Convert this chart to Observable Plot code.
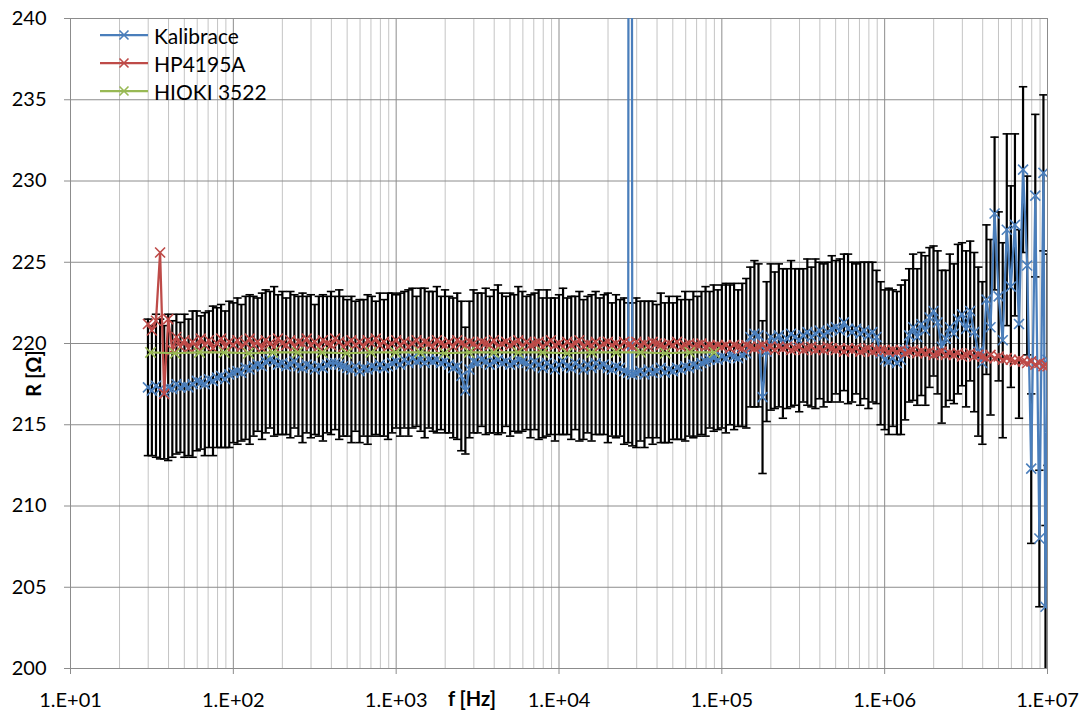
<!DOCTYPE html>
<html><head><meta charset="utf-8">
<script src="https://cdn.jsdelivr.net/npm/d3@7"></script>
<script src="https://cdn.jsdelivr.net/npm/@observablehq/plot@0.6"></script>
<style>
body{margin:0;background:#fff;}
#wrap{position:relative;width:1083px;height:713px;font-family:Lato,"Open Sans",sans-serif;}
#legend{position:absolute;left:100px;top:21px;font-size:21px;color:#000;font-family:Lato,sans-serif;}
.item{display:flex;align-items:center;height:28px;}
.item svg{margin-right:6px;}
</style></head><body><div id="wrap"><div id="legend"></div></div>
<script>
const freq = [
29.9,31.6,33.5,35.5,37.6,39.8,42.2,44.7,47.3,50.1,53.1,56.2,59.6,63.1,66.8,70.8,75.0,79.4,84.1,89.1,94.4,
100,106,112,119,126,133,141,150,158,168,178,188,200,211,224,237,251,266,282,299,316,335,355,376,398,422,447,473,501,531,562,596,631,668,708,750,794,841,891,944,
1000,1059,1122,1189,1259,1334,1413,1496,1585,1679,1778,1884,1995,2113,2239,2371,2512,2661,2818,2985,3162,3350,3548,3758,3981,4217,4467,4732,5012,5309,5623,5957,6310,6683,7079,7499,7943,8414,8913,9441,
10000,10590,11220,11890,12590,13340,14130,14960,15850,16790,17780,18840,19950,21130,22390,23710,25120,26610,27300,28180,29850,31620,33500,35480,37580,39810,42170,44670,47320,50120,53090,56230,59570,63100,66830,70790,74990,79430,84140,89130,94410,
1.0e5,1.059e5,1.122e5,1.189e5,1.259e5,1.334e5,1.413e5,1.496e5,1.585e5,1.679e5,1.778e5,1.884e5,1.995e5,2.113e5,2.239e5,2.371e5,2.512e5,2.661e5,2.818e5,2.985e5,3.162e5,3.350e5,3.548e5,3.758e5,3.981e5,4.217e5,4.467e5,4.732e5,5.012e5,5.309e5,5.623e5,5.957e5,6.310e5,6.683e5,7.079e5,7.499e5,7.943e5,8.414e5,8.913e5,9.441e5,
1.0e6,1.059e6,1.122e6,1.189e6,1.259e6,1.334e6,1.413e6,1.496e6,1.585e6,1.679e6,1.778e6,1.884e6,1.995e6,2.113e6,2.239e6,2.371e6,2.512e6,2.661e6,2.818e6,2.985e6,3.162e6,3.350e6,3.548e6,3.758e6,3.981e6,4.217e6,4.467e6,4.732e6,5.012e6,5.309e6,5.623e6,5.957e6,6.310e6,6.683e6,7.079e6,7.499e6,7.943e6,8.414e6,8.913e6,9.441e6,
9.72e6,1.0e7
];
const kalibrace = [
217.3,217.1,217.4,217.2,217.0,217.3,217.2,217.5,217.3,217.4,217.3,
217.5,217.7,217.6,217.5,217.8,217.7,217.9,218.0,217.8,218.1,
218.2,218.3,218.2,218.5,218.4,218.6,218.7,218.6,218.9,219.0,218.9,
218.7,218.8,218.6,218.7,218.9,218.6,218.5,218.7,218.6,218.4,218.6,218.5,218.7,218.8,
218.8,218.7,218.6,218.5,218.4,218.6,218.3,218.5,218.4,218.6,218.5,218.7,218.5,218.6,218.8,
218.9,218.7,219.0,218.8,219.1,218.9,219.0,218.8,219.0,218.9,219.0,218.8,218.9,218.7,218.5,218.6,
218.0,217.1,218.4,
218.9,218.8,219.0,218.9,218.7,218.9,219.0,218.8,218.9,218.7,218.8,219.0,218.9,218.8,
218.6,218.9,218.7,218.5,218.8,218.6,218.4,218.7,218.9,218.6,218.5,218.8,218.6,218.4,218.7,218.5,218.8,218.6,218.7,218.5,218.4,218.6,218.5,218.3,
218.2,400,218.1,
218.2,218.3,218.1,218.4,218.2,218.3,218.5,218.2,218.4,218.3,218.5,218.4,218.6,218.5,218.7,218.6,218.8,218.9,219.0,219.1,219.0,
219.2,219.1,219.3,219.2,219.1,219.3,219.4,220.4,220.6,
220.5,216.7,219.5,220.4,
220.2,220.5,220.0,220.3,220.6,220.4,220.2,220.5,220.7,220.4,220.6,220.8,220.5,220.7,220.9,221.0,220.8,221.3,220.9,220.7,220.9,220.6,220.8,220.5,220.7,220.4,
219.4,219.0,218.9,219.1,218.8,
219.0,219.6,220.5,221.0,220.4,221.2,220.8,221.6,222.0,221.3,219.8,220.3,221.0,220.6,221.5,221.8,220.9,222.0,220.7,219.5,
218.8,222.7,221.0,228.0,222.9,220.2,227.0,223.5,227.3,221.2,230.7,224.8,212.3,229.1,208.0,230.5,
203.8,219.0
];
const kalErr = [
4.2,4.0,4.4,4.3,4.1,4.5,4.2,4.3,4.0,4.4,4.2,4.5,4.3,4.1,4.4,4.2,4.6,4.3,4.4,4.2,4.5,
4.3,4.5,4.2,4.4,4.6,4.3,4.1,4.5,4.4,4.2,4.6,4.3,4.4,4.2,4.5,4.1,4.3,4.6,4.2,4.4,4.0,4.3,4.5,4.2,4.4,4.1,4.6,4.3,4.2,4.5,4.0,4.4,4.2,4.6,4.3,4.1,4.4,4.2,4.5,4.3,
4.1,4.4,4.2,4.5,4.3,4.0,4.4,4.6,4.2,4.3,4.5,4.1,4.4,4.2,4.3,4.5,4.6,3.9,4.2,4.4,4.3,4.1,4.5,4.2,4.4,4.6,4.3,4.0,4.4,4.2,4.5,4.3,4.1,4.4,4.2,4.6,4.3,4.5,4.2,4.4,
4.3,4.5,4.2,4.4,4.1,4.6,4.3,4.2,4.5,4.4,4.2,4.3,4.6,4.1,4.4,4.2,4.5,4.3,
4.0,
4.4,4.6,4.3,4.5,4.2,4.4,4.1,4.6,4.3,4.5,4.2,4.4,4.3,4.6,4.2,4.5,4.3,4.4,4.6,4.2,4.5,4.3,
4.4,4.6,4.3,4.5,4.2,4.4,4.6,4.3,4.5,4.4,4.7,4.3,4.5,4.2,4.4,4.6,4.3,4.5,4.2,4.4,4.1,4.5,4.3,4.6,4.2,4.4,4.3,4.5,4.1,4.4,4.2,4.6,4.3,4.0,4.4,4.2,4.5,4.3,4.1,4.4,
4.3,4.5,4.2,4.4,4.6,4.3,4.1,4.5,4.2,4.4,4.6,4.3,4.0,4.4,4.7,4.2,4.5,4.3,4.6,4.4,4.8,4.3,4.9,5.2,
5.0,4.6,5.4,4.7,5.2,6.0,5.9,6.2,5.6,5.8,5.1,5.5,4.6,5.0,4.2,4.8,
5.0,6.5
];
const hp4195a = [
221.2,220.8,221.4,225.6,216.9,221.5,219.6,220.4,219.8,220.2,219.7,
220.1,219.8,220.3,219.9,220.2,219.7,220.0,220.3,219.8,220.1,
219.9,220.2,219.8,220.0,220.3,219.9,220.1,219.7,220.2,220.0,
219.8,220.3,220.0,219.9,220.2,219.8,220.1,220.0,220.3,219.9,
220.1,219.8,220.2,220.0,219.9,220.3,220.1,219.8,220.0,220.2,
219.9,220.1,219.8,220.2,220.0,220.3,219.9,220.1,219.8,220.0,
220.2,219.9,220.1,219.8,220.0,220.2,219.9,220.1,220.0,219.8,
220.2,220.0,219.9,220.1,219.8,220.2,220.0,219.9,220.1,220.0,
219.8,220.1,220.0,219.9,220.2,219.8,220.0,220.1,219.9,220.0,
220.2,219.8,220.1,219.9,220.0,220.1,219.8,220.0,220.2,219.9,
220.0,219.8,220.1,219.9,220.0,220.2,219.8,220.0,219.9,220.1,
219.8,220.0,220.1,219.9,220.0,219.8,220.1,219.9,220.0,219.8,
220.1,219.9,220.0,219.8,220.1,220.0,219.9,219.8,220.0,219.9,
220.1,219.8,219.9,220.0,219.8,219.9,220.0,219.8,219.9,219.8,219.9,
219.8,219.9,219.7,219.9,219.8,219.7,219.9,219.8,219.7,219.8,
219.9,219.7,219.8,219.6,219.8,219.7,219.8,219.6,219.7,219.8,
219.6,219.7,219.8,219.6,219.7,219.6,219.8,219.7,219.6,219.7,
219.5,219.7,219.6,219.7,219.5,219.6,219.7,219.5,219.6,219.6,
219.6,219.5,219.6,219.5,219.6,219.4,219.5,219.6,219.4,219.5,
219.4,219.5,219.3,219.4,219.5,219.3,219.4,219.3,219.4,219.2,
219.3,219.4,219.2,219.3,219.2,219.1,219.3,219.1,219.2,219.0,
219.1,219.0,218.9,219.0,218.9,218.8,218.9,218.7,218.8,218.6,
218.7,218.6
];
const hiokiFreq = [31,43.8,62,87.7,124,175,248,351,496,701,992,1403,1984,2806,3968,5612,7937,11225,15873,22449,31747,44898,63496,89797];
const hioki = [219.45,219.4,219.45,219.45,219.4,219.45,219.45,219.45,219.4,219.45,219.45,219.45,219.4,219.45,219.45,219.45,219.45,219.4,219.45,219.45,219.45,219.4,219.45,219.45];

const seriesNames = ["Kalibrace","HP4195A","HIOKI 3522"];
const seriesColors = ["#4a7ebb","#be4b48","#98b954"];
const yTicks = [200,205,210,215,220,225,230,235,240];
const xTicks = [1e1,1e2,1e3,1e4,1e5,1e6,1e7];
const xTickLabels = ["1.E+01","1.E+02","1.E+03","1.E+04","1.E+05","1.E+06","1.E+07"];

const kal = freq.map((f,i)=>({f, v:kalibrace[i], lo:kalibrace[i]-kalErr[i], hi:kalibrace[i]+kalErr[i]}));
const hp = freq.map((f,i)=>({f, v:hp4195a[i]}));
const hk = hiokiFreq.map((f,i)=>({f, v:hioki[i]}));
const minorTicks = d3.scaleLog().domain([10,1e7]).ticks().filter(t => Math.abs(Math.log10(t) - Math.round(Math.log10(t))) > 1e-9);

const cap = {draw(ctx, size){const r=Math.sqrt(size/Math.PI); ctx.moveTo(-r,0); ctx.lineTo(r,0);}};
const grid = "#8c8c8c", minorGrid = "#c4c4c4";

const chart = Plot.plot({
  width:1083, height:713,
  marginLeft:70, marginRight:36, marginTop:18, marginBottom:45,
  style:{fontFamily:"Lato, sans-serif", fontSize:"20px", color:"black", background:"white"},
  x:{type:"log", domain:[10,1e7]},
  y:{domain:[200,240]},
  marks:[
    Plot.ruleX(minorTicks,{stroke:minorGrid}),
    Plot.ruleX(xTicks,{stroke:grid}),
    Plot.ruleY(yTicks,{stroke:grid}),
    Plot.axisX({ticks:xTicks, tickFormat:d=>xTickLabels[xTicks.indexOf(d)], tickSize:6, tickPadding:18, stroke:grid, fill:"black", label:null, fontSize:20}),
    Plot.axisY({ticks:yTicks, tickSize:6, tickPadding:18, stroke:grid, fill:"black", label:null, fontSize:20}),
    Plot.ruleX(kal,{x:"f", y1:"lo", y2:"hi", stroke:"black", strokeWidth:2.2, clip:true}),
    Plot.dot(kal,{x:"f", y:"hi", symbol:cap, r:4.2, fill:"none", stroke:"black", strokeWidth:1.6, clip:true}),
    Plot.dot(kal,{x:"f", y:"lo", symbol:cap, r:4.2, fill:"none", stroke:"black", strokeWidth:1.6, clip:true}),
    Plot.line(kal,{x:"f", y:"v", stroke:seriesColors[0], strokeWidth:2.25, clip:true}),
    Plot.dot(kal,{x:"f", y:"v", symbol:"times", r:4.6, stroke:seriesColors[0], strokeWidth:1.6, clip:true}),
    Plot.line(hp,{x:"f", y:"v", stroke:seriesColors[1], strokeWidth:2.25, clip:true}),
    Plot.dot(hp,{x:"f", y:"v", symbol:"times", r:4.6, stroke:seriesColors[1], strokeWidth:1.6, clip:true}),
    Plot.line(hk,{x:"f", y:"v", stroke:seriesColors[2], strokeWidth:2.25, clip:true}),
    Plot.dot(hk,{x:"f", y:"v", symbol:"times", r:4.8, stroke:seriesColors[2], strokeWidth:1.6, clip:true}),
    Plot.text(["f [Hz]"],{frameAnchor:"bottom", dx:-87, dy:31, fontWeight:"bold", fontSize:20, lineAnchor:"middle", textAnchor:"middle"}),
    Plot.text(["R [Ω]"],{frameAnchor:"left", dx:-36, dy:30, rotate:-90, textAnchor:"middle", lineAnchor:"middle", fontWeight:"bold", fontSize:20})
  ]
});
const wrap = document.getElementById("wrap");
wrap.insertBefore(chart, wrap.firstChild);

const legend = document.getElementById("legend");
seriesNames.forEach((name,i)=>{
  const c = seriesColors[i];
  const div = document.createElement("div");
  div.className = "item";
  div.innerHTML = `<svg width="48" height="16"><line x1="0" y1="8" x2="48" y2="8" stroke="${c}" stroke-width="2.25"/><path d="M19.5,3.5L28.5,12.5M28.5,3.5L19.5,12.5" stroke="${c}" stroke-width="1.6" fill="none"/></svg><span>${name}</span>`;
  legend.appendChild(div);
});
</script></body></html>
